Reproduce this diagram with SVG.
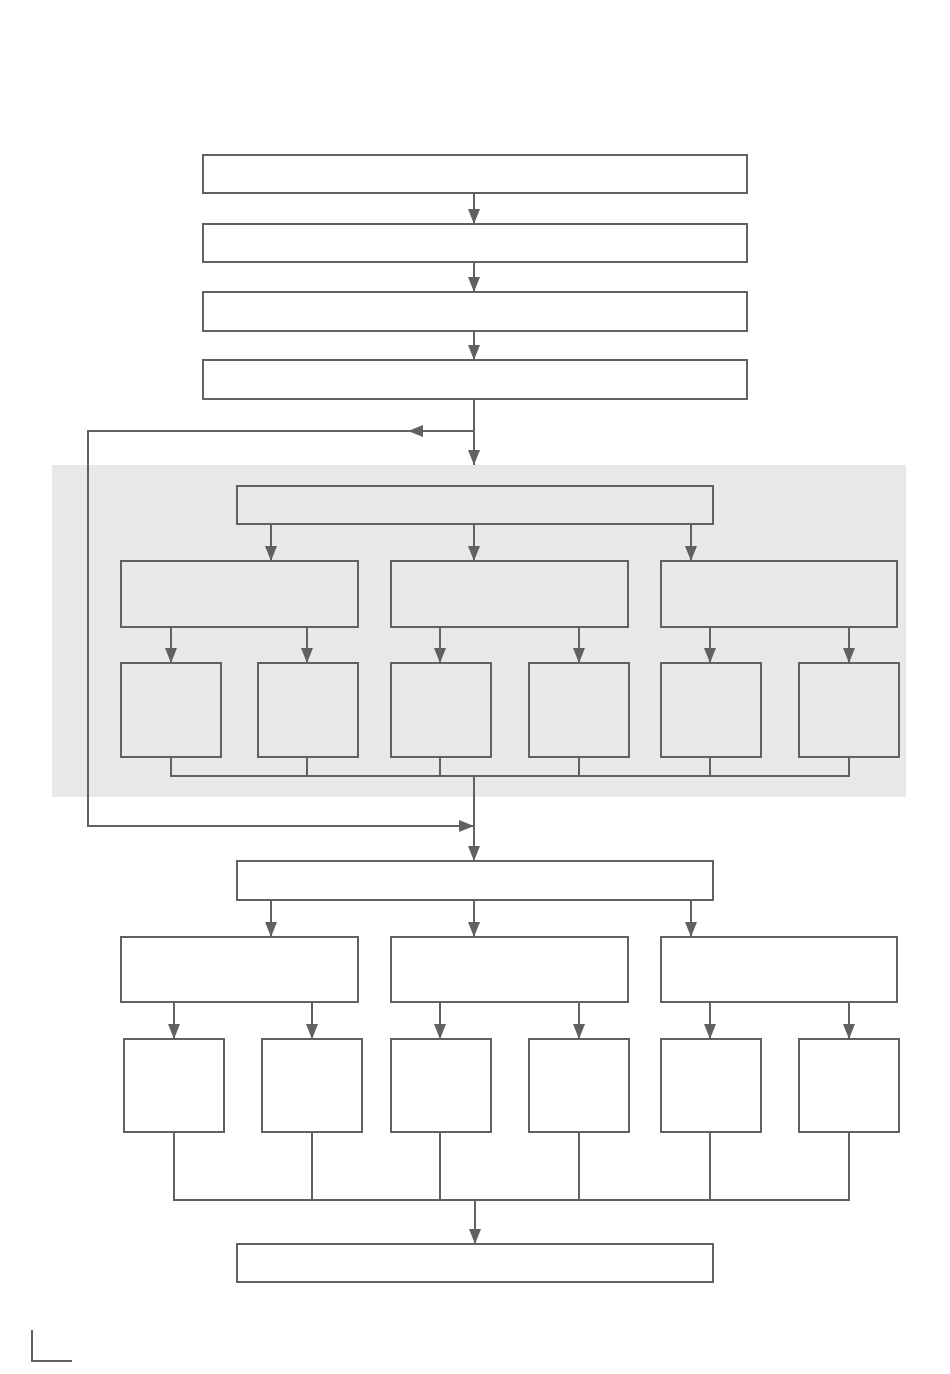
<svg xmlns="http://www.w3.org/2000/svg" width="950" height="1374" viewBox="0 0 950 1374">
<style>
.n{fill:#ffffff;stroke:#616161;stroke-width:2}
.g{fill:#e8e8e8;stroke:#616161;stroke-width:2}
.c{fill:none;stroke:#616161;stroke-width:2}
.a{fill:none;stroke:#616161;stroke-width:2;marker-end:url(#ah)}
</style>
<defs>
<marker id="ah" markerUnits="userSpaceOnUse" markerWidth="15" markerHeight="12" refX="15" refY="6" orient="auto">
<path d="M0,0 L15,6 L0,12 z" fill="#616161"/>
</marker>
</defs>
<rect width="950" height="1374" fill="#ffffff"/>
<rect id="region" x="52" y="465" width="854" height="332" fill="#e8e8e8"/>
<g id="n1"><rect class="n" x="203" y="155" width="544" height="38"/></g>
<g id="n2"><rect class="n" x="203" y="224" width="544" height="38"/></g>
<g id="n3"><rect class="n" x="203" y="292" width="544" height="39"/></g>
<g id="n4"><rect class="n" x="203" y="360" width="544" height="39"/></g>
<g id="u0"><rect class="g" x="237" y="486" width="476" height="38"/></g>
<g id="u1"><rect class="g" x="121" y="561" width="237" height="66"/></g>
<g id="u2"><rect class="g" x="391" y="561" width="237" height="66"/></g>
<g id="u3"><rect class="g" x="661" y="561" width="236" height="66"/></g>
<g id="u11"><rect class="g" x="121" y="663" width="100" height="94"/></g>
<g id="u12"><rect class="g" x="258" y="663" width="100" height="94"/></g>
<g id="u21"><rect class="g" x="391" y="663" width="100" height="94"/></g>
<g id="u22"><rect class="g" x="529" y="663" width="100" height="94"/></g>
<g id="u31"><rect class="g" x="661" y="663" width="100" height="94"/></g>
<g id="u32"><rect class="g" x="799" y="663" width="100" height="94"/></g>
<g id="l0"><rect class="n" x="237" y="861" width="476" height="39"/></g>
<g id="l1"><rect class="n" x="121" y="937" width="237" height="65"/></g>
<g id="l2"><rect class="n" x="391" y="937" width="237" height="65"/></g>
<g id="l3"><rect class="n" x="661" y="937" width="236" height="65"/></g>
<g id="l11"><rect class="n" x="124" y="1039" width="100" height="93"/></g>
<g id="l12"><rect class="n" x="262" y="1039" width="100" height="93"/></g>
<g id="l21"><rect class="n" x="391" y="1039" width="100" height="93"/></g>
<g id="l22"><rect class="n" x="529" y="1039" width="100" height="93"/></g>
<g id="l31"><rect class="n" x="661" y="1039" width="100" height="93"/></g>
<g id="l32"><rect class="n" x="799" y="1039" width="100" height="93"/></g>
<g id="end"><rect class="n" x="237" y="1244" width="476" height="38"/></g>
<g id="connectors">
<line class="a" x1="474" y1="193" x2="474" y2="224"/>
<line class="a" x1="474" y1="262" x2="474" y2="292"/>
<line class="a" x1="474" y1="331" x2="474" y2="360"/>
<line class="a" x1="474" y1="399" x2="474" y2="465"/>
<line class="a" x1="474" y1="431" x2="408" y2="431"/>
<polyline class="a" points="408,431 88,431 88,826 474,826"/>
<line class="a" x1="271" y1="524" x2="271" y2="561"/>
<line class="a" x1="474" y1="524" x2="474" y2="561"/>
<line class="a" x1="691" y1="524" x2="691" y2="561"/>
<line class="a" x1="171" y1="627" x2="171" y2="663"/>
<line class="a" x1="307" y1="627" x2="307" y2="663"/>
<line class="a" x1="440" y1="627" x2="440" y2="663"/>
<line class="a" x1="579" y1="627" x2="579" y2="663"/>
<line class="a" x1="710" y1="627" x2="710" y2="663"/>
<line class="a" x1="849" y1="627" x2="849" y2="663"/>
<polyline class="c" points="171,757 171,776 849,776 849,757"/>
<line class="c" x1="307" y1="757" x2="307" y2="776"/>
<line class="c" x1="440" y1="757" x2="440" y2="776"/>
<line class="c" x1="579" y1="757" x2="579" y2="776"/>
<line class="c" x1="710" y1="757" x2="710" y2="776"/>
<line class="a" x1="474" y1="776" x2="474" y2="861"/>
<line class="a" x1="271" y1="900" x2="271" y2="937"/>
<line class="a" x1="474" y1="900" x2="474" y2="937"/>
<line class="a" x1="691" y1="900" x2="691" y2="937"/>
<line class="a" x1="174" y1="1003" x2="174" y2="1039"/>
<line class="a" x1="312" y1="1003" x2="312" y2="1039"/>
<line class="a" x1="440" y1="1003" x2="440" y2="1039"/>
<line class="a" x1="579" y1="1003" x2="579" y2="1039"/>
<line class="a" x1="710" y1="1003" x2="710" y2="1039"/>
<line class="a" x1="849" y1="1003" x2="849" y2="1039"/>
<polyline class="c" points="174,1132 174,1200 849,1200 849,1132"/>
<line class="c" x1="312" y1="1132" x2="312" y2="1200"/>
<line class="c" x1="440" y1="1132" x2="440" y2="1200"/>
<line class="c" x1="579" y1="1132" x2="579" y2="1200"/>
<line class="c" x1="710" y1="1132" x2="710" y2="1200"/>
<line class="a" x1="475" y1="1201" x2="475" y2="1244"/>
</g>
<polyline id="mark" class="c" points="32,1330 32,1361 72,1361"/>
</svg>
